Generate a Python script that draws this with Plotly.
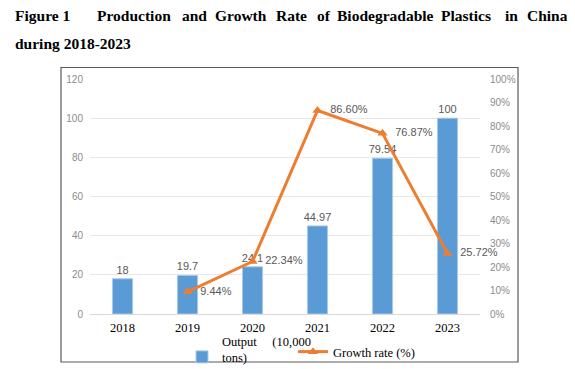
import plotly.graph_objects as go

# ---- data ----
years = ["2018", "2019", "2020", "2021", "2022", "2023"]
output = [18, 19.7, 24.1, 44.97, 79.54, 100]
growth_years = ["2019", "2020", "2021", "2022", "2023"]
growth_rate = [0.0944, 0.2234, 0.8660, 0.7687, 0.2572]
output_labels = ["18", "19.7", "24.1", "44.97", "79.54", "100"]
growth_labels = ["9.44%", "22.34%", "86.60%", "76.87%", "25.72%"]

title_line1 = ["Figure 1", "Production", "and", "Growth", "Rate", "of",
               "Biodegradable", "Plastics", "in", "China"]
title_line2 = "during 2018-2023"

# The page body has an 8px margin; work in screen pixels and offset.
OFF = 8
W, H = 575 - OFF, 369 - OFF
L, R, T, B = 90, 480, 79, 314  # plot area, screen pixels


def px_x(p):
    return (p - L) / (R - L)


def px_y(p):
    return (B - p) / (B - T)


def cx(p):
    return (p - OFF) / W


def cy(p):
    return 1 - (p - OFF) / H


BLUE = "#5B9BD5"
ORANGE = "#ED7D31"
GRAY = "#595959"

fig = go.Figure()
fig.add_trace(go.Bar(
    x=years, y=output, name="Output\u00a0\u00a0\u00a0\u00a0\u00a0(10,000<br>tons)",
    marker=dict(color=BLUE, line=dict(color="#a9c9e8", width=1)),
    width=0.31,
    text=output_labels, textposition="outside", cliponaxis=False,
    constraintext="none",
    textfont=dict(family="Liberation Sans", size=11, color=GRAY),
    yaxis="y", legend="legend",
))
fig.add_trace(go.Scatter(
    x=growth_years, y=growth_rate, name="Growth rate (%)",
    mode="lines+markers+text",
    line=dict(color=ORANGE, width=3),
    marker=dict(symbol="triangle-up", size=9, color=ORANGE),
    text=["\u00a0\u00a0" + s for s in growth_labels],
    textposition="middle right", cliponaxis=False,
    textfont=dict(family="Liberation Sans", size=11, color=GRAY),
    yaxis="y2", legend="legend2",
))

# Title words placed to reproduce the justified first line
word_x = [12.7, 95, 180, 213, 274, 315, 335, 439, 503, 525]
annotations = []
for w, x in zip(title_line1, word_x):
    annotations.append(dict(
        text="<b>%s</b>" % w, x=px_x(x), y=px_y(15), xref="paper", yref="paper",
        xanchor="left", yanchor="middle", showarrow=False,
        font=dict(family="Liberation Serif", size=15.5, color="black"),
    ))
annotations.append(dict(
    text="<b>%s</b>" % title_line2, x=px_x(12.7), y=px_y(43), xref="paper", yref="paper",
    xanchor="left", yanchor="middle", showarrow=False,
    font=dict(family="Liberation Serif", size=15.5, color="black"),
))

legend_common = dict(
    orientation="h", xref="container", yref="container",
    xanchor="left", yanchor="top",
    font=dict(family="Liberation Serif", size=12.5, color="black"),
    valign="bottom", bgcolor="rgba(0,0,0,0)", itemwidth=30,
)

fig.update_layout(
    width=W, height=H,
    margin=dict(l=L - OFF, r=W - (R - OFF), t=T - OFF, b=H - (B - OFF), pad=0,
                autoexpand=False),
    paper_bgcolor="white", plot_bgcolor="white",
    xaxis=dict(
        type="category", showgrid=False, showline=True, linecolor="#d9d9d9", linewidth=1,
        ticks="", tickfont=dict(family="Liberation Serif", size=12.5, color="black"),
        ticklabelstandoff=2,
    ),
    yaxis=dict(
        range=[0, 120], dtick=20, showgrid=True, gridcolor="#e8e8e8", gridwidth=1,
        zeroline=False, ticks="", showline=False,
        tickfont=dict(family="Liberation Sans", size=10, color="#8c8c8c"),
        ticklabelstandoff=6,
    ),
    yaxis2=dict(
        range=[0, 1], dtick=0.1, tickformat=".0%", overlaying="y", side="right",
        showgrid=False, zeroline=False, ticks="", showline=False,
        tickfont=dict(family="Liberation Sans", size=10, color="#8c8c8c"),
        ticklabelstandoff=9,
    ),
    showlegend=True,
    legend=dict(legend_common, x=cx(182), y=cy(326)),
    legend2=dict(legend_common, x=cx(293), y=cy(337)),
    annotations=annotations,
    shapes=[dict(
        type="rect", xref="paper", yref="paper",
        x0=px_x(61), x1=px_x(518), y0=px_y(362), y1=px_y(67.5),
        line=dict(color="#5a5a5a", width=1.2), fillcolor="rgba(0,0,0,0)",
    )],
)

fig.write_html("out.html")
